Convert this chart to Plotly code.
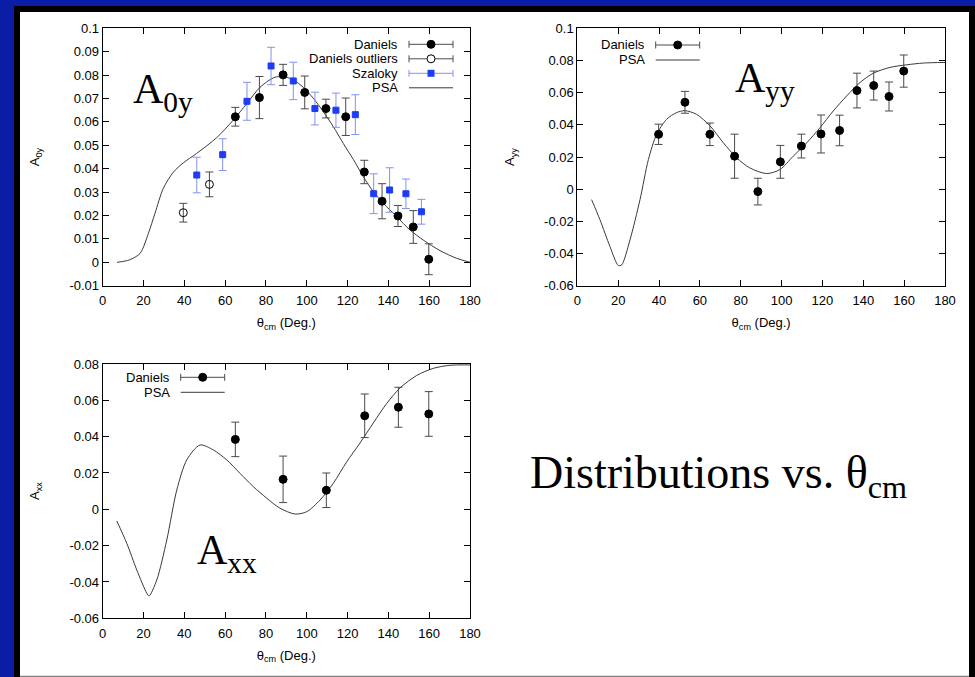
import plotly.graph_objects as go

W, H = 975, 677

# ---------------- data ----------------
# A0y panel
a0y_dan_theta = [65.0, 76.8, 88.4, 99.0, 109.4, 119.1, 128.2, 136.9, 144.7, 152.2, 159.8]
a0y_dan_val = [0.0622, 0.0704, 0.0801, 0.0726, 0.0657, 0.0622, 0.0386, 0.0261, 0.0198, 0.0151, 0.0013]
a0y_dan_err = [0.004, 0.009, 0.0045, 0.007, 0.004, 0.008, 0.005, 0.0075, 0.0045, 0.007, 0.0066]

a0y_out_theta = [39.5, 52.3]
a0y_out_val = [0.0212, 0.0333]
a0y_out_err = [0.004, 0.0053]

a0y_sz_theta = [46.1, 58.8, 70.7, 82.5, 93.4, 104.0, 114.3, 123.8, 132.8, 140.6, 148.6, 156.2]
a0y_sz_val = [0.0373, 0.046, 0.0688, 0.0839, 0.0775, 0.0657, 0.065, 0.0631, 0.0293, 0.0309, 0.0293, 0.0216]
a0y_sz_err = [0.0076, 0.0068, 0.0081, 0.008, 0.008, 0.007, 0.0073, 0.0085, 0.0085, 0.0095, 0.0063, 0.0053]

a0y_psa_theta = [7, 13, 18.3, 22.4, 25.6, 29.7, 34.6, 39.5, 46.0, 55.9, 64.0, 70.6, 77.1, 83.6, 88.5,
                 93.4, 98.3, 103.2, 108.1, 113.0, 117.9, 122.8, 127.7, 132.6, 137.5, 144.1, 150.6,
                 157.1, 165.3, 173.5, 180]
a0y_psa_val = [0.0, 0.001, 0.0038, 0.0124, 0.0209, 0.0316, 0.0385, 0.0425, 0.0465, 0.0533, 0.0608,
               0.0678, 0.0748, 0.0788, 0.0795, 0.0779, 0.0748, 0.0701, 0.0644, 0.058, 0.0508, 0.044,
               0.0366, 0.0302, 0.0252, 0.0195, 0.0138, 0.0095, 0.005, 0.0017, 0.0]

# Ayy panel
ayy_dan_theta = [39.8, 52.7, 64.9, 77.0, 88.4, 99.4, 109.7, 119.3, 128.4, 136.9, 145.1, 152.6, 159.8]
ayy_dan_val = [0.0341, 0.054, 0.0341, 0.0205, -0.0015, 0.017, 0.0268, 0.0343, 0.0365, 0.0613, 0.0644, 0.0576, 0.0734]
ayy_dan_err = [0.0063, 0.0068, 0.007, 0.0137, 0.0083, 0.0102, 0.0074, 0.0118, 0.0095, 0.0108, 0.009, 0.009, 0.01]

ayy_psa_theta = [7.0, 11.1, 16.0, 20.1, 21.7, 25.8, 30.7, 34.8, 38.8, 43.7, 48.6, 52.7, 58.4, 65.0,
                 71.5, 78.0, 84.5, 92.7, 99.2, 105.7, 112.3, 118.8, 125.3, 131.9, 138.4, 144.9,
                 153.1, 161.2, 169.4, 180]
ayy_psa_val = [-0.0065, -0.019, -0.0357, -0.0475, -0.0471, -0.0315, -0.0065, 0.0184, 0.034, 0.0434,
               0.0476, 0.0488, 0.0465, 0.0393, 0.0288, 0.0195, 0.0132, 0.0097, 0.0122, 0.0205,
               0.0288, 0.0382, 0.0486, 0.058, 0.0663, 0.0721, 0.0757, 0.0773, 0.0784, 0.0788]

# Axx panel
axx_dan_theta = [65.0, 88.4, 109.6, 128.4, 144.9, 159.8]
axx_dan_val = [0.0385, 0.0165, 0.0105, 0.0515, 0.0562, 0.0525]
axx_dan_err = [0.0095, 0.0128, 0.0095, 0.012, 0.011, 0.0123]

axx_psa_theta = [6.9, 11.8, 16.7, 21.6, 22.7, 26.5, 31.4, 36.3, 41.2, 47.7, 54.2, 60.8, 67.3, 73.8,
                 80.4, 86.9, 94.3, 100.0, 106.5, 113.0, 119.6, 126.1, 132.6, 139.2, 145.7, 153.9,
                 162.0, 170.2, 180]
axx_psa_val = [-0.0064, -0.0187, -0.0334, -0.0462, -0.0477, -0.0389, -0.0169, 0.0106, 0.0272, 0.0354,
               0.0327, 0.0272, 0.0198, 0.0125, 0.0061, 0.0006, -0.0026, -0.0013, 0.0051, 0.0143,
               0.0262, 0.0365, 0.0475, 0.0583, 0.0668, 0.0737, 0.0776, 0.0793, 0.0795]

# tick labels
x_ticks = [0, 20, 40, 60, 80, 100, 120, 140, 160, 180]
x_tick_text = ["0", "20", "40", "60", "80", "100", "120", "140", "160", "180"]
a0y_ticks = [-0.01, 0, 0.01, 0.02, 0.03, 0.04, 0.05, 0.06, 0.07, 0.08, 0.09, 0.1]
a0y_tick_text = ["-0.01", "0", "0.01", "0.02", "0.03", "0.04", "0.05", "0.06", "0.07", "0.08", "0.09", "0.1"]
ayy_ticks = [-0.06, -0.04, -0.02, 0, 0.02, 0.04, 0.06, 0.08, 0.1]
ayy_tick_text = ["-0.06", "-0.04", "-0.02", "0", "0.02", "0.04", "0.06", "0.08", "0.1"]
axx_ticks = [-0.06, -0.04, -0.02, 0, 0.02, 0.04, 0.06, 0.08]
axx_tick_text = ["-0.06", "-0.04", "-0.02", "0", "0.02", "0.04", "0.06", "0.08"]

# ---------------- styles ----------------
BG_BLUE = "#0b1ca6"
SANS = "Liberation Sans, Arial, Helvetica, sans-serif"
SERIF = "Liberation Serif, Times New Roman, serif"
BLK_ERR = "#4a4a4a"
BLUE = "#1e3cf5"
BLUE_ERR = "#8291f0"
CURVE = "#3a3a3a"


def px(x):
    return x / W


def py(y):
    return 1 - y / H


fig = go.Figure()


def add_psa(xs, ys, ax):
    fig.add_trace(go.Scatter(x=xs, y=ys, mode="lines", line=dict(color=CURVE, width=1, shape="spline", smoothing=0.8),
                             xaxis="x" + ax, yaxis="y" + ax, showlegend=False, hoverinfo="skip"))


def add_pts(xs, ys, es, ax, symbol, color, ecolor, size=8, lcolor=None):
    fig.add_trace(go.Scatter(x=xs, y=ys, mode="markers",
                             error_y=dict(type="data", array=es, visible=True, color=ecolor, thickness=1, width=4),
                             marker=dict(symbol=symbol, size=size, color=color,
                                         line=dict(color=lcolor or color, width=1)),
                             xaxis="x" + ax, yaxis="y" + ax, showlegend=False))


# panel 1
add_psa(a0y_psa_theta, a0y_psa_val, "")
add_pts(a0y_out_theta, a0y_out_val, a0y_out_err, "", "circle-open", "#000000", BLK_ERR, size=8)
add_pts(a0y_sz_theta, a0y_sz_val, a0y_sz_err, "", "square", BLUE, BLUE_ERR, size=6)
add_pts(a0y_dan_theta, a0y_dan_val, a0y_dan_err, "", "circle", "#000000", BLK_ERR)
# panel 2
add_psa(ayy_psa_theta, ayy_psa_val, "2")
add_pts(ayy_dan_theta, ayy_dan_val, ayy_dan_err, "2", "circle", "#000000", BLK_ERR)
# panel 3
add_psa(axx_psa_theta, axx_psa_val, "3")
add_pts(axx_dan_theta, axx_dan_val, axx_dan_err, "3", "circle", "#000000", BLK_ERR)

tickfont = dict(family=SANS, size=13, color="black")
titlefont = dict(family=SANS, size=13, color="black")


def xaxis(dom, anchor):
    return dict(domain=dom, anchor=anchor, range=[0, 180], tickvals=x_ticks, ticktext=x_tick_text,
                showline=True, linecolor="black", linewidth=1, mirror="allticks", ticks="inside",
                ticklen=6, tickcolor="black", tickwidth=1, showgrid=False, zeroline=False, automargin=False,
                ticklabelstandoff=3,
                tickfont=tickfont, title=dict(text="θ<sub>cm</sub> (Deg.)", font=titlefont, standoff=10))


def yaxis(dom, anchor, rng, tv, tt, title):
    return dict(domain=dom, anchor=anchor, range=rng, tickvals=tv, ticktext=tt,
                showline=True, linecolor="black", linewidth=1, mirror="allticks", ticks="inside",
                ticklen=6, tickcolor="black", tickwidth=1, showgrid=False, zeroline=False, automargin=False,
                tickfont=tickfont, title=dict(text=title, font=titlefont, standoff=26))


P1X = [px(102.7), px(470)]
P2X = [px(577.3), px(945)]
TOPY = [py(285.7), py(28.3)]
BOTY = [py(618.3), py(364)]

shapes = [
    # slide frame
    dict(type="rect", xref="paper", yref="paper", x0=px(14), x1=px(975), y0=py(677), y1=py(6),
         fillcolor="black", line=dict(width=0), layer="below"),
    dict(type="rect", xref="paper", yref="paper", x0=px(20), x1=px(969), y0=py(677), y1=py(12),
         fillcolor="white", line=dict(width=0), layer="below"),
    dict(type="rect", xref="paper", yref="paper", x0=px(20), x1=px(969), y0=py(677), y1=py(675.8),
         fillcolor="#808080", line=dict(width=0), layer="below"),
]
annotations = []


def legend_entry(text_right, y, text, color, ecolor, kind):
    annotations.append(dict(xref="paper", yref="paper", x=px(text_right), y=py(y), xanchor="right",
                            yanchor="middle", text=text, showarrow=False,
                            font=dict(family=SANS, size=13, color="black")))
    x0, x1 = text_right + 9, text_right + 53
    xm = (x0 + x1) / 2
    lc = ecolor
    shapes.append(dict(type="line", xref="paper", yref="paper", x0=px(x0), x1=px(x1), y0=py(y), y1=py(y),
                       line=dict(color=lc, width=1)))
    if kind == "line":
        return
    for xc in (x0, x1):
        shapes.append(dict(type="line", xref="paper", yref="paper", x0=px(xc), x1=px(xc), y0=py(y - 3.5),
                           y1=py(y + 3.5), line=dict(color=lc, width=1)))
    if kind == "circle":
        shapes.append(dict(type="circle", xref="paper", yref="paper", x0=px(xm - 4), x1=px(xm + 4),
                           y0=py(y + 4), y1=py(y - 4), fillcolor=color, line=dict(color=color, width=1)))
    elif kind == "open":
        shapes.append(dict(type="circle", xref="paper", yref="paper", x0=px(xm - 4), x1=px(xm + 4),
                           y0=py(y + 4), y1=py(y - 4), fillcolor="white", line=dict(color=color, width=1)))
    elif kind == "square":
        shapes.append(dict(type="rect", xref="paper", yref="paper", x0=px(xm - 3.5), x1=px(xm + 3.5),
                           y0=py(y + 3.5), y1=py(y - 3.5), fillcolor=color, line=dict(color=color, width=0)))


legend_entry(400, 44.3, "Daniels", "black", BLK_ERR, "circle")
legend_entry(400, 58.8, "Daniels outliers", "black", BLK_ERR, "open")
legend_entry(400, 73.3, "Szaloky", BLUE, BLUE_ERR, "square")
legend_entry(400, 87.8, "PSA", CURVE, CURVE, "line")

legend_entry(646.7, 45, "Daniels", "black", BLK_ERR, "circle")
legend_entry(646.7, 60, "PSA", CURVE, CURVE, "line")

legend_entry(171.7, 377.3, "Daniels", "black", BLK_ERR, "circle")
legend_entry(171.7, 392.3, "PSA", CURVE, CURVE, "line")

# big panel labels
big = dict(family=SERIF, size=42, color="black")
annotations.append(dict(xref="paper", yref="paper", x=px(131), y=py(92), xanchor="left", yanchor="middle",
                        text="A<sub>0y</sub>", showarrow=False, font=big))
annotations.append(dict(xref="paper", yref="paper", x=px(733), y=py(81), xanchor="left", yanchor="middle",
                        text="A<sub>yy</sub>", showarrow=False, font=big))
annotations.append(dict(xref="paper", yref="paper", x=px(195), y=py(553), xanchor="left", yanchor="middle",
                        text="A<sub>xx</sub>", showarrow=False, font=big))
annotations.append(dict(xref="paper", yref="paper", x=px(528), y=py(476), xanchor="left", yanchor="middle",
                        text="Distributions vs. θ<sub>cm</sub>", showarrow=False,
                        font=dict(family=SERIF, size=46, color="black")))

fig.update_layout(
    template="none",
    width=W, height=H, margin=dict(l=0, r=0, t=0, b=0, pad=0, autoexpand=False),
    paper_bgcolor=BG_BLUE, plot_bgcolor="white", showlegend=False,
    xaxis=xaxis(P1X, "y"), yaxis=yaxis(TOPY, "x", [-0.01, 0.1], a0y_ticks, a0y_tick_text, "A<sub>0y</sub>"),
    xaxis2=xaxis(P2X, "y2"), yaxis2=yaxis(TOPY, "x2", [-0.06, 0.1], ayy_ticks, ayy_tick_text, "A<sub>yy</sub>"),
    xaxis3=xaxis(P1X, "y3"), yaxis3=yaxis(BOTY, "x3", [-0.06, 0.08], axx_ticks, axx_tick_text, "A<sub>xx</sub>"),
    shapes=shapes, annotations=annotations,
)

fig.write_html("out.html")
